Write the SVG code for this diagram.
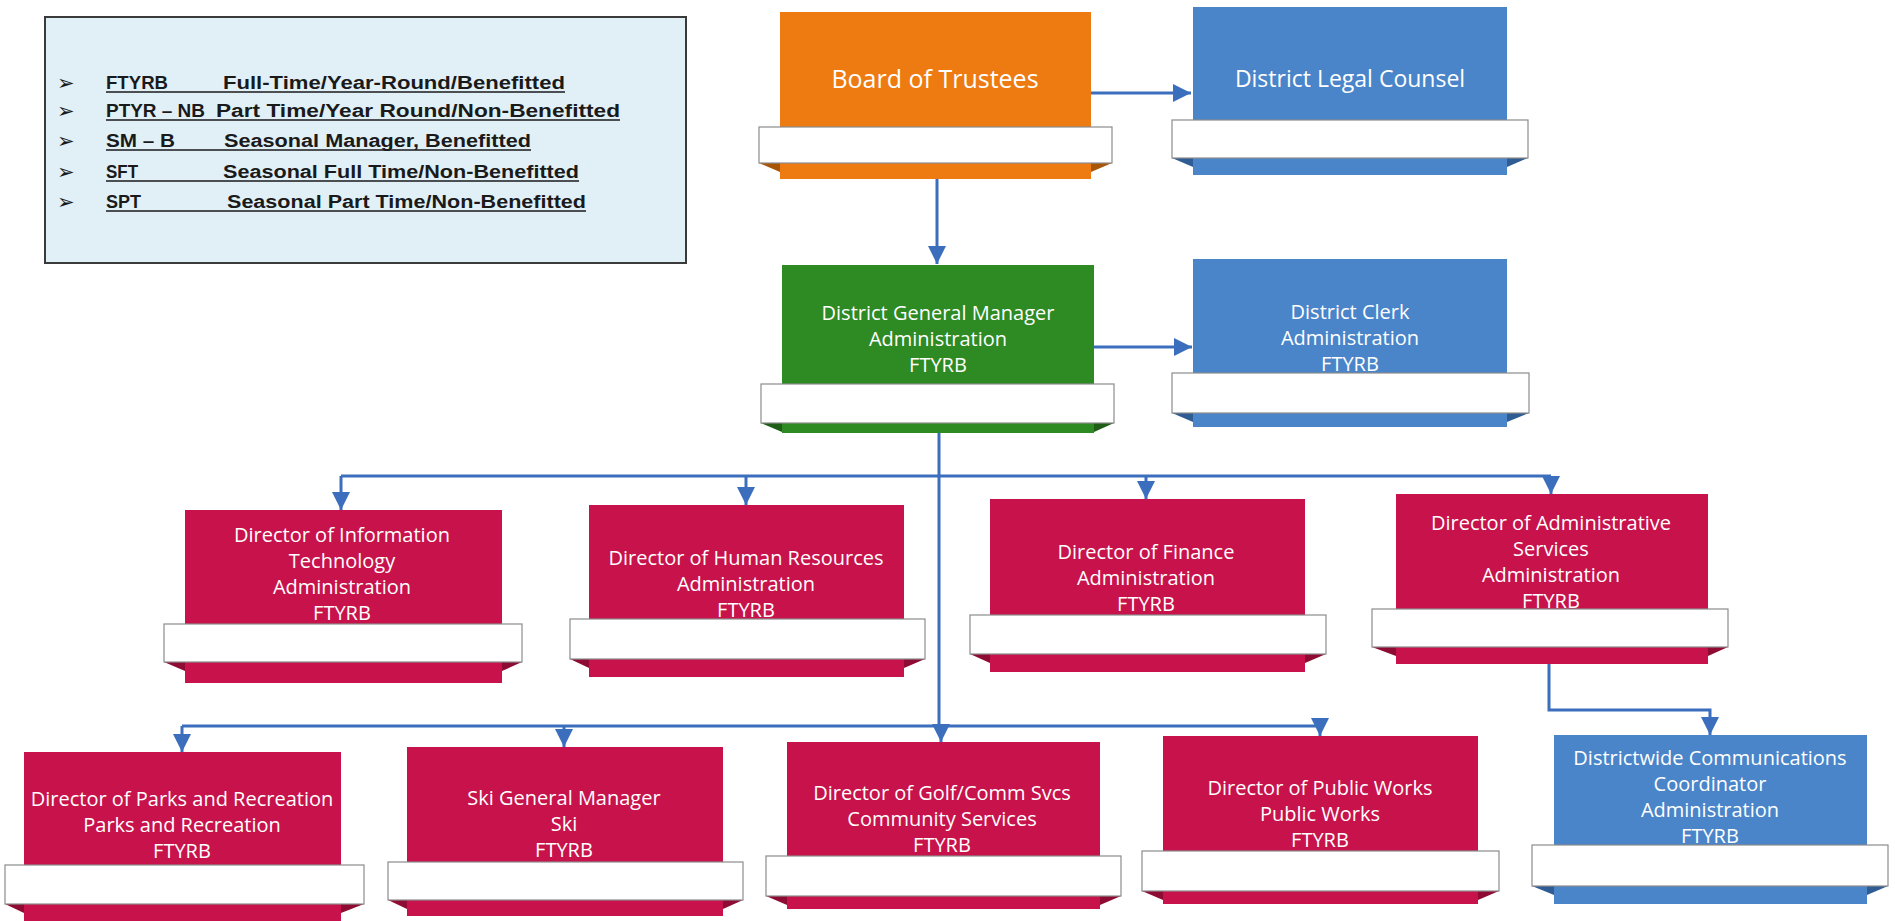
<svg xmlns="http://www.w3.org/2000/svg" width="1895" height="921" viewBox="0 0 1895 921">
<style>
.lbl{font-family:"Open Sans","Noto Sans",sans-serif;font-size:20px;fill:#ffffff;text-anchor:middle}
.big{font-size:25px}
.mid{font-size:23px}
.ban{fill:#ffffff;stroke:#8c8c8c;stroke-width:1.2}
.red{fill:#c8124b}.redd{fill:#8e0c34}
.blue{fill:#4a85c9}.blued{fill:#2f5c93}
.grn{fill:#2e8a22}.grnd{fill:#1e5e16}
.org{fill:#ee7a12}.orgd{fill:#a85508}
.con{fill:none;stroke:#3b6fbd;stroke-width:3}
.lg{font-family:"Liberation Sans",Arial,sans-serif;font-weight:bold;font-size:18px;fill:#1a1a1a}
.bul{font-family:"DejaVu Sans",sans-serif;font-size:21px;fill:#1a1a1a}
.ul{stroke:#1a1a1a;stroke-width:1.5}
</style>
<defs>
<marker id="ah" markerUnits="userSpaceOnUse" markerWidth="20" markerHeight="18" refX="18" refY="9" orient="auto">
<path d="M0,0 L18,9 L0,18 Z" fill="#3b6fbd"/>
</marker>
</defs>
<rect width="1895" height="921" fill="#ffffff"/>

<g id="legend">
<rect x="45" y="17" width="641" height="246" fill="#e1f0f7" stroke="#3a3a3a" stroke-width="2"/>
<text class="bul" x="57" y="90">➢</text>
<text class="bul" x="57" y="118">➢</text>
<text class="bul" x="57" y="148">➢</text>
<text class="bul" x="57" y="179">➢</text>
<text class="bul" x="57" y="209">➢</text>
<text class="lg" x="106" y="89" textLength="62" lengthAdjust="spacingAndGlyphs">FTYRB</text>
<text class="lg" x="223" y="89" textLength="342" lengthAdjust="spacingAndGlyphs">Full-Time/Year-Round/Benefitted</text>
<line class="ul" x1="106" y1="92" x2="565" y2="92"/>
<text class="lg" x="106" y="117" textLength="99" lengthAdjust="spacingAndGlyphs">PTYR – NB</text>
<text class="lg" x="216" y="117" textLength="404" lengthAdjust="spacingAndGlyphs">Part Time/Year Round/Non-Benefitted</text>
<line class="ul" x1="106" y1="120" x2="620" y2="120"/>
<text class="lg" x="106" y="147" textLength="69" lengthAdjust="spacingAndGlyphs">SM – B</text>
<text class="lg" x="224" y="147" textLength="307" lengthAdjust="spacingAndGlyphs">Seasonal Manager, Benefitted</text>
<line class="ul" x1="106" y1="150" x2="531" y2="150"/>
<text class="lg" x="106" y="178" textLength="32" lengthAdjust="spacingAndGlyphs">SFT</text>
<text class="lg" x="223" y="178" textLength="356" lengthAdjust="spacingAndGlyphs">Seasonal Full Time/Non-Benefitted</text>
<line class="ul" x1="106" y1="181" x2="579" y2="181"/>
<text class="lg" x="106" y="208" textLength="35" lengthAdjust="spacingAndGlyphs">SPT</text>
<text class="lg" x="227" y="208" textLength="359" lengthAdjust="spacingAndGlyphs">Seasonal Part Time/Non-Benefitted</text>
<line class="ul" x1="106" y1="211" x2="586" y2="211"/>
</g>

<g id="connectors">
<path class="con" d="M1091,93 H1191" marker-end="url(#ah)"/>
<path class="con" d="M937,179 V264" marker-end="url(#ah)"/>
<path class="con" d="M1094,347 H1192" marker-end="url(#ah)"/>
<path class="con" d="M939,433 V726"/>
<path class="con" d="M341,476 H1551"/>
<path class="con" d="M341,476 V510" marker-end="url(#ah)"/>
<path class="con" d="M746,476 V505" marker-end="url(#ah)"/>
<path class="con" d="M1146,476 V499" marker-end="url(#ah)"/>
<path class="con" d="M1551,476 V494" marker-end="url(#ah)"/>
<path class="con" d="M182,726 H1320"/>
<path class="con" d="M182,726 V752" marker-end="url(#ah)"/>
<path class="con" d="M564,726 V747" marker-end="url(#ah)"/>
<path class="con" d="M941,726 V742" marker-end="url(#ah)"/>
<path class="con" d="M1320,726 V736" marker-end="url(#ah)"/>
<path class="con" d="M1549,664 V710 H1710 V735" marker-end="url(#ah)"/>
</g>

<g id="board">
<rect class="org" x="780" y="12" width="311" height="167"/>
<polygon class="orgd" points="759,163 780,163 780,172"/>
<polygon class="orgd" points="1112,163 1091,163 1091,172"/>
<rect class="ban" x="759" y="127" width="353" height="36"/>
<text class="lbl big" x="935" y="88">Board of Trustees</text>
</g>

<g id="legal">
<rect class="blue" x="1193" y="7" width="314" height="168"/>
<polygon class="blued" points="1172,158 1193,158 1193,167"/>
<polygon class="blued" points="1528,158 1507,158 1507,167"/>
<rect class="ban" x="1172" y="120" width="356" height="38"/>
<text class="lbl mid" x="1350" y="87">District Legal Counsel</text>
</g>

<g id="dgm">
<rect class="grn" x="782" y="265" width="312" height="168"/>
<polygon class="grnd" points="761,423 782,423 782,432"/>
<polygon class="grnd" points="1114,423 1094,423 1094,432"/>
<rect class="ban" x="761" y="384" width="353" height="39"/>
<text class="lbl" x="938" y="320">District General Manager</text>
<text class="lbl" x="938" y="346">Administration</text>
<text class="lbl" x="938" y="372">FTYRB</text>
</g>

<g id="clerk">
<rect class="blue" x="1193" y="259" width="314" height="168"/>
<polygon class="blued" points="1172,413 1193,413 1193,422"/>
<polygon class="blued" points="1529,413 1507,413 1507,422"/>
<rect class="ban" x="1172" y="373" width="357" height="40"/>
<text class="lbl" x="1350" y="319">District Clerk</text>
<text class="lbl" x="1350" y="345">Administration</text>
<text class="lbl" x="1350" y="371">FTYRB</text>
</g>

<g id="dir-it">
<rect class="red" x="185" y="510" width="317" height="173"/>
<polygon class="redd" points="164,662 185,662 185,671"/>
<polygon class="redd" points="522,662 502,662 502,671"/>
<rect class="ban" x="164" y="624" width="358" height="38"/>
<text class="lbl" x="342" y="542">Director of Information</text>
<text class="lbl" x="342" y="568">Technology</text>
<text class="lbl" x="342" y="594">Administration</text>
<text class="lbl" x="342" y="620">FTYRB</text>
</g>

<g id="dir-hr">
<rect class="red" x="589" y="505" width="315" height="172"/>
<polygon class="redd" points="570,659 589,659 589,668"/>
<polygon class="redd" points="925,659 904,659 904,668"/>
<rect class="ban" x="570" y="619" width="355" height="40"/>
<text class="lbl" x="746" y="565">Director of Human Resources</text>
<text class="lbl" x="746" y="591">Administration</text>
<text class="lbl" x="746" y="617">FTYRB</text>
</g>

<g id="dir-finance">
<rect class="red" x="990" y="499" width="315" height="173"/>
<polygon class="redd" points="970,654 990,654 990,663"/>
<polygon class="redd" points="1326,654 1305,654 1305,663"/>
<rect class="ban" x="970" y="615" width="356" height="39"/>
<text class="lbl" x="1146" y="559">Director of Finance</text>
<text class="lbl" x="1146" y="585">Administration</text>
<text class="lbl" x="1146" y="611">FTYRB</text>
</g>

<g id="dir-admin">
<rect class="red" x="1396" y="494" width="312" height="170"/>
<polygon class="redd" points="1372,647 1396,647 1396,656"/>
<polygon class="redd" points="1728,647 1708,647 1708,656"/>
<rect class="ban" x="1372" y="609" width="356" height="38"/>
<text class="lbl" x="1551" y="530">Director of Administrative</text>
<text class="lbl" x="1551" y="556">Services</text>
<text class="lbl" x="1551" y="582">Administration</text>
<text class="lbl" x="1551" y="608">FTYRB</text>
</g>

<g id="dir-parks">
<rect class="red" x="24" y="752" width="317" height="169"/>
<polygon class="redd" points="5,904 24,904 24,913"/>
<polygon class="redd" points="364,904 341,904 341,913"/>
<rect class="ban" x="5" y="865" width="359" height="39"/>
<text class="lbl" x="182" y="806">Director of Parks and Recreation</text>
<text class="lbl" x="182" y="832">Parks and Recreation</text>
<text class="lbl" x="182" y="858">FTYRB</text>
</g>

<g id="ski">
<rect class="red" x="407" y="747" width="316" height="169"/>
<polygon class="redd" points="388,900 407,900 407,909"/>
<polygon class="redd" points="743,900 723,900 723,909"/>
<rect class="ban" x="388" y="862" width="355" height="38"/>
<text class="lbl" x="564" y="805">Ski General Manager</text>
<text class="lbl" x="564" y="831">Ski</text>
<text class="lbl" x="564" y="857">FTYRB</text>
</g>

<g id="dir-golf">
<rect class="red" x="787" y="742" width="313" height="167"/>
<polygon class="redd" points="766,896 787,896 787,905"/>
<polygon class="redd" points="1121,896 1100,896 1100,905"/>
<rect class="ban" x="766" y="856" width="355" height="40"/>
<text class="lbl" x="942" y="800">Director of Golf/Comm Svcs</text>
<text class="lbl" x="942" y="826">Community Services</text>
<text class="lbl" x="942" y="852">FTYRB</text>
</g>

<g id="dir-pw">
<rect class="red" x="1163" y="736" width="315" height="168"/>
<polygon class="redd" points="1142,891 1163,891 1163,900"/>
<polygon class="redd" points="1499,891 1478,891 1478,900"/>
<rect class="ban" x="1142" y="851" width="357" height="40"/>
<text class="lbl" x="1320" y="795">Director of Public Works</text>
<text class="lbl" x="1320" y="821">Public Works</text>
<text class="lbl" x="1320" y="847">FTYRB</text>
</g>

<g id="comm">
<rect class="blue" x="1554" y="735" width="313" height="169"/>
<polygon class="blued" points="1532,886 1554,886 1554,895"/>
<polygon class="blued" points="1888,886 1867,886 1867,895"/>
<rect class="ban" x="1532" y="845" width="356" height="41"/>
<text class="lbl" x="1710" y="765">Districtwide Communications</text>
<text class="lbl" x="1710" y="791">Coordinator</text>
<text class="lbl" x="1710" y="817">Administration</text>
<text class="lbl" x="1710" y="843">FTYRB</text>
</g>
</svg>
